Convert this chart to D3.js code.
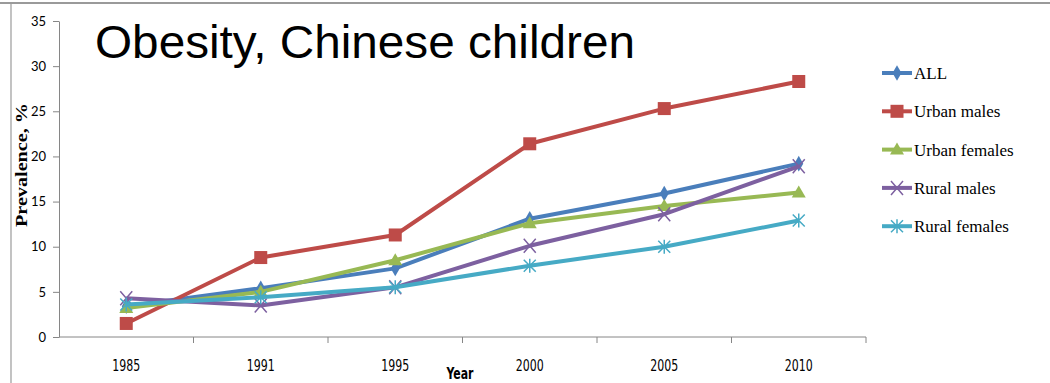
<!DOCTYPE html>
<html>
<head>
<meta charset="utf-8">
<script src="https://cdn.jsdelivr.net/npm/d3@7"></script>
<style>
  html, body { margin: 0; padding: 0; background: #fff; }
  svg { display: block; }
</style>
</head>
<body>
<svg id="chart" width="1050" height="383"></svg>
<script>
// Survey years (categories) and prevalence of obesity (%) per group
const years = ["1985", "1991", "1995", "2000", "2005", "2010"];
const allChildren   = [3.4, 5.4, 7.6, 13.1, 15.9, 19.2];
const urbanMales    = [1.5, 8.8, 11.3, 21.4, 25.3, 28.3];
const urbanFemales  = [3.2, 5.0, 8.5, 12.6, 14.5, 16.0];
const ruralMales    = [4.3, 3.5, 5.5, 10.1, 13.6, 18.9];
const ruralFemales  = [3.6, 4.4, 5.5, 7.9, 10.0, 12.9];
const yTicks = [0, 5, 10, 15, 20, 25, 30, 35];

const seriesNames  = ["ALL", "Urban males", "Urban females", "Rural males", "Rural females"];
const seriesValues = [allChildren, urbanMales, urbanFemales, ruralMales, ruralFemales];
const seriesColors = ["#4a7ebb", "#be4b48", "#98b954", "#7d60a0", "#46aac5"];
const seriesMarkers = ["diamond", "square", "triangle", "cross", "asterisk"];

const svg = d3.select("#chart");

// slide frame edges
svg.append("line").attr("x1", 0).attr("x2", 1050).attr("y1", 3).attr("y2", 3)
  .attr("stroke", "#9a9a9a").attr("stroke-width", 2);
svg.append("line").attr("x1", 11).attr("x2", 11).attr("y1", 3).attr("y2", 383)
  .attr("stroke", "#9a9a9a").attr("stroke-width", 1.2);

const plot = { left: 59, right: 866, top: 21, bottom: 337 };

const x = d3.scaleBand().domain(years).range([plot.left, plot.right]).padding(0);
const y = d3.scaleLinear().domain([0, 35]).range([plot.bottom, plot.top]);

const axisColor = "#868686";

// Y axis
const yAxis = svg.append("g").attr("transform", `translate(${plot.left},0)`)
  .call(d3.axisLeft(y).tickValues(yTicks).tickSize(6).tickPadding(7).tickSizeOuter(0));
yAxis.select(".domain").attr("stroke", axisColor);
yAxis.selectAll(".tick line").attr("stroke", axisColor);
yAxis.selectAll(".tick text")
  .attr("fill", "#000")
  .style("font-family", "Lato, 'Open Sans', sans-serif")
  .style("font-size", "13px");

// X axis: ticks sit between categories
const xAxisG = svg.append("g").attr("transform", `translate(0,${plot.bottom})`);
xAxisG.append("line").attr("x1", plot.left).attr("x2", plot.right)
  .attr("y1", 0).attr("y2", 0).attr("stroke", axisColor);
const bounds = years.map(d => x(d) + x.bandwidth());
xAxisG.selectAll("line.sep").data(bounds).join("line").attr("class", "sep")
  .attr("x1", d => d).attr("x2", d => d).attr("y1", 0).attr("y2", 6)
  .attr("stroke", axisColor);
xAxisG.selectAll("text.yr").data(years).join("text").attr("class", "yr")
  .attr("x", d => x(d) + x.bandwidth() / 2).attr("y", 34)
  .attr("text-anchor", "middle")
  .attr("textLength", 28).attr("lengthAdjust", "spacingAndGlyphs")
  .style("font-family", "'DejaVu Sans Condensed', 'DejaVu Sans', sans-serif")
  .style("font-size", "15px")
  .text(d => d);

// axis titles
svg.append("text").attr("x", 460).attr("y", 379).attr("text-anchor", "middle")
  .attr("textLength", 27).attr("lengthAdjust", "spacingAndGlyphs")
  .style("font-family", "'DejaVu Sans Condensed', 'DejaVu Sans', sans-serif")
  .style("font-weight", "bold").style("font-size", "15px")
  .text("Year");
svg.append("text")
  .attr("transform", "translate(27,165) rotate(-90)")
  .attr("text-anchor", "middle")
  .attr("textLength", 124).attr("lengthAdjust", "spacingAndGlyphs")
  .style("font-family", "'Liberation Serif', 'Times New Roman', serif")
  .style("font-weight", "bold").style("font-size", "17px")
  .text("Prevalence, %");

// chart title
svg.append("text").attr("x", 95).attr("y", 58)
  .attr("textLength", 540).attr("lengthAdjust", "spacingAndGlyphs")
  .style("font-family", "'Liberation Sans', Arial, sans-serif")
  .style("font-size", "47px")
  .text("Obesity, Chinese children");

// marker shapes
function drawMarker(g, type, color, cx, cy) {
  if (type === "diamond") {
    g.append("path").attr("d", d3.symbol(d3.symbolDiamond, 70)())
      .attr("transform", `translate(${cx},${cy})`).attr("fill", color);
  } else if (type === "square") {
    g.append("rect").attr("x", cx - 6.5).attr("y", cy - 6.5).attr("width", 13).attr("height", 13)
      .attr("fill", color);
  } else if (type === "triangle") {
    g.append("path").attr("d", `M${cx},${cy - 7}L${cx + 7},${cy + 5}L${cx - 7},${cy + 5}Z`)
      .attr("fill", color);
  } else if (type === "cross") {
    g.append("path").attr("d", `M${cx - 6},${cy - 7}L${cx + 6},${cy + 7}M${cx + 6},${cy - 7}L${cx - 6},${cy + 7}`)
      .attr("stroke", color).attr("stroke-width", 1.5).attr("fill", "none");
  } else if (type === "asterisk") {
    g.append("path").attr("d",
      `M${cx - 6},${cy - 6}L${cx + 6},${cy + 6}M${cx + 6},${cy - 6}L${cx - 6},${cy + 6}M${cx},${cy - 7}L${cx},${cy + 7}`)
      .attr("stroke", color).attr("stroke-width", 1.5).attr("fill", "none");
  }
}

// series lines and markers
const line = d3.line().x((d, i) => x(years[i]) + x.bandwidth() / 2).y(d => y(d));
seriesValues.forEach((vals, si) => {
  const g = svg.append("g");
  g.append("path").attr("d", line(vals))
    .attr("fill", "none").attr("stroke", seriesColors[si])
    .attr("stroke-width", 4).attr("stroke-linejoin", "round");
  vals.forEach((v, i) => drawMarker(g, seriesMarkers[si], seriesColors[si],
    x(years[i]) + x.bandwidth() / 2, y(v)));
});

// legend
const legend = svg.append("g");
seriesNames.forEach((name, i) => {
  const ly = 73 + i * 38.3;
  legend.append("line").attr("x1", 882).attr("x2", 912).attr("y1", ly).attr("y2", ly)
    .attr("stroke", seriesColors[i]).attr("stroke-width", 4);
  drawMarker(legend, seriesMarkers[i], seriesColors[i], 897, ly);
  legend.append("text").attr("x", 914).attr("y", ly + 6)
    .style("font-family", "'Liberation Serif', 'Times New Roman', serif")
    .style("font-size", "17px")
    .text(name);
});
</script>
</body>
</html>
